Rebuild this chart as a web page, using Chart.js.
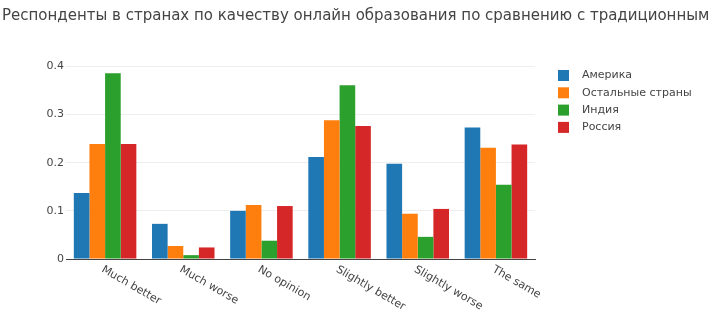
<!DOCTYPE html>
<html>
<head>
<meta charset="utf-8">
<script src="https://cdn.jsdelivr.net/npm/chart.js@4/dist/chart.umd.min.js"></script>
<style>
  html, body { margin: 0; padding: 0; background: #fff; }
  #wrap { position: relative; width: 720px; height: 333px; }
</style>
</head>
<body>
<div id="wrap"><canvas id="answerChart" width="720" height="333"></canvas></div>
<script>
let categories = ["Much better", "Much worse", "No opinion", "Slightly better", "Slightly worse", "The same"];
let america = [0.137, 0.073, 0.100, 0.212, 0.198, 0.273];
let otherCountries = [0.239, 0.027, 0.112, 0.288, 0.094, 0.231];
let india = [0.386, 0.008, 0.038, 0.361, 0.046, 0.154];
let russia = [0.239, 0.024, 0.110, 0.276, 0.104, 0.238];
let yTicks = [0, 0.1, 0.2, 0.3, 0.4];

let seriesNames = ["Америка", "Остальные страны", "Индия", "Россия"];
let seriesColors = ["#1f77b4", "#ff7f0e", "#2ca02c", "#d62728"];
let titleText = "Респонденты в странах по качеству онлайн образования по сравнению с традиционным";
let font = "'DejaVu Sans', Verdana, sans-serif";

// title across the full width (the built-in one gets squeezed by the right padding)
const wideTitle = {
  id: 'wideTitle',
  afterDraw(chart) {
    let c = chart.ctx;
    c.save();
    c.font = "15px " + font;
    c.fillStyle = "#444";
    c.textAlign = "left";
    c.textBaseline = "alphabetic";
    c.fillText(titleText, 2, 19.5);
    c.restore();
  }
};

// x labels rotated clockwise, starting at the tick
const slantLabels = {
  id: 'slantLabels',
  afterDraw(chart) {
    let c = chart.ctx;
    let xs = chart.scales.x;
    c.save();
    c.font = "11px " + font;
    c.fillStyle = "#444";
    c.textAlign = "left";
    c.textBaseline = "top";
    xs.ticks.forEach(function(t, i){
      let x = xs.getPixelForTick(i);
      c.save();
      c.translate(x, xs.top + 5);
      c.rotate(Math.PI / 6);
      c.fillText(categories[i], 0, 0);
      c.restore();
    });
    c.restore();
  }
};

// legend on the right, plotly style
const sideLegend = {
  id: 'sideLegend',
  afterDraw(chart) {
    let c = chart.ctx;
    c.save();
    c.font = "11px " + font;
    c.textBaseline = "middle";
    chart.data.datasets.forEach(function(ds, i){
      let y = 75.5 + i * 17.3;
      c.fillStyle = ds.backgroundColor;
      c.fillRect(558, y - 5.5, 11, 11);
      c.fillStyle = "#444";
      c.fillText(ds.label, 582, y);
    });
    c.restore();
  }
};

let ctx = document.getElementById('answerChart').getContext("2d");
let barChart = new Chart(ctx, {
  type: 'bar',
  data: {
    labels: categories,
    datasets: [
      { label: seriesNames[0], backgroundColor: seriesColors[0], data: america },
      { label: seriesNames[1], backgroundColor: seriesColors[1], data: otherCountries },
      { label: seriesNames[2], backgroundColor: seriesColors[2], data: india },
      { label: seriesNames[3], backgroundColor: seriesColors[3], data: russia }
    ]
  },
  options: {
    responsive: false,
    animation: false,
    layout: { padding: { left: 2, right: 185, top: 64, bottom: 0 } },
    datasets: {
      bar: { categoryPercentage: 0.8, barPercentage: 1.0, borderWidth: 0 }
    },
    plugins: {
      legend: { display: false },
      tooltip: { enabled: false },
      title: { display: false }
    },
    scales: {
      x: {
        grid: { display: false, drawTicks: false },
        border: { display: true, color: "#444", width: 1 },
        ticks: { display: false },
        afterFit(scale) { scale.height = 74; }
      },
      y: {
        min: 0,
        max: 0.405,
        afterBuildTicks(scale) { scale.ticks = yTicks.map(v => ({ value: v })); },
        grid: { color: "#eee", drawTicks: false },
        border: { display: false },
        ticks: {
          color: "#444",
          padding: 2,
          font: { family: font, size: 11 },
          callback: v => String(v)
        },
        afterFit(scale) { scale.width = 64; }
      }
    }
  },
  plugins: [wideTitle, slantLabels, sideLegend]
});
</script>
</body>
</html>
